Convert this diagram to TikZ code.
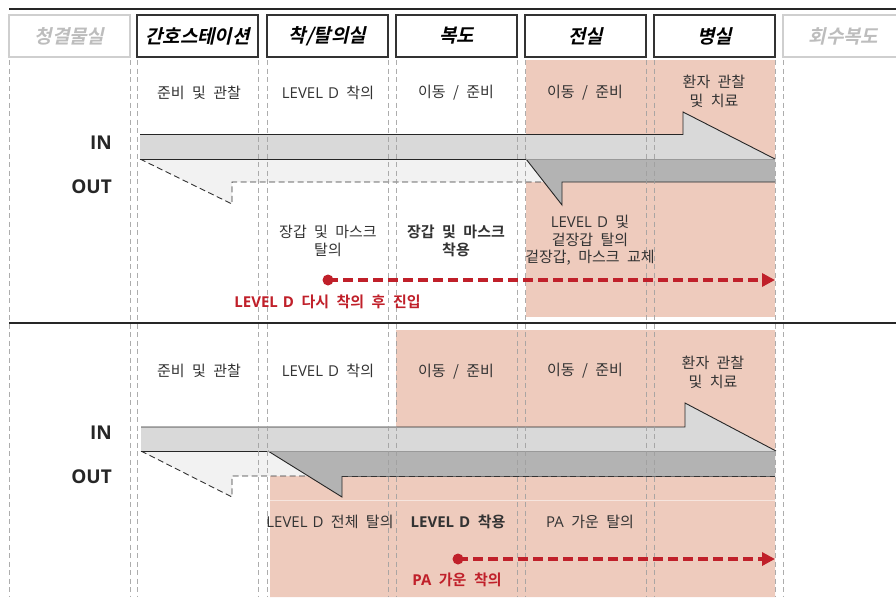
\documentclass[tikz,border=0pt]{standalone}
\usepackage{fontspec}
\setmainfont{Noto Sans CJK KR}[BoldFont={Noto Sans CJK KR Bold}, WordSpace=2.2]
\newfontfamily\hdrfont{Noto Sans CJK KR Bold}[FakeSlant=0.22, WordSpace=2.2]
\newfontfamily\lat{Open Sans}[WordSpace=1.3]
\usetikzlibrary{arrows.meta}
\definecolor{pinkbg}{HTML}{EECBBD}
\definecolor{inband}{HTML}{D9D9D9}
\definecolor{outdark}{HTML}{B3B3B3}
\definecolor{outlight}{HTML}{F2F2F2}
\definecolor{redc}{HTML}{C0202A}
\definecolor{txt}{HTML}{333333}
\definecolor{boxline}{HTML}{333333}
\definecolor{greyhdr}{HTML}{CFCFCF}
\definecolor{greytxt}{HTML}{BDBDBD}
\begin{document}
\begin{tikzpicture}[x=1pt,y=-1pt,
  hdr/.style={draw=boxline, line width=1.4pt, minimum width=121pt, minimum height=42pt,
    font=\hdrfont\fontsize{19}{22}\selectfont, text=black, inner sep=0pt},
  hdrgray/.style={hdr, draw=greyhdr, text=greytxt},
  lbl/.style={font=\fontsize{15}{18.5}\selectfont, text=txt, align=center, inner sep=0pt},
  lblb/.style={lbl, font=\bfseries\fontsize{15}{18.5}\selectfont},
  redlbl/.style={font=\bfseries\fontsize{15}{16}\selectfont, text=redc, inner sep=0pt},
  io/.style={font=\lat\bfseries\fontsize{19}{22}\selectfont, text=black!85, anchor=east, inner sep=0pt},
  vguide/.style={draw=gray!75, line width=0.7pt, dash pattern=on 5pt off 3.5pt, opacity=0.85},
  redflow/.style={draw=redc, line width=3.6pt, dash pattern=on 10pt off 5pt,
    -{Triangle[length=13pt,width=13pt]}},
  reddot/.style={circle, fill=redc, minimum size=11pt, inner sep=0pt},
  edgeline/.style={draw=black!85, line width=0.9pt, line join=miter},
  dashedge/.style={draw=black!80, line width=0.9pt, dash pattern=on 6pt off 3.5pt},
  sepline/.style={draw=black!85, line width=2.2pt}
]
\useasboundingbox (0,0) rectangle (896,597);
\clip (0,0) rectangle (896,597);

% ---------- pink backgrounds ----------
\fill[pinkbg] (526,60) rectangle (775,317);
\fill[pinkbg] (396,330) -- (775,330) -- (775,597) -- (270,597) -- (270,476) -- (396,476) -- cycle;
\draw[white, opacity=0.5, line width=0.6pt] (270,500) -- (775,500);

% ---------- top panel flows ----------
\fill[outlight] (140,159) -- (775,159) -- (775,182) -- (232,182) -- (232,204) -- cycle;
\draw[dashedge] (140,159) -- (232,204) -- (232,182) -- (562,182);
\fill[inband] (140,134.5) -- (683,134.5) -- (683,112) -- (775,159) -- (140,159) -- cycle;
\draw[edgeline] (140,134.5) -- (683,134.5) -- (683,112) -- (775,159);
\draw[edgeline] (140,159) -- (526,159);
\fill[outdark] (526,159) -- (775,159) -- (775,182) -- (562,182) -- (562,205) -- cycle;
\draw[edgeline] (775,182) -- (562,182) -- (562,205) -- (526,159);
\draw[black!40, line width=0.5pt] (526,159) -- (775,159);

% ---------- bottom panel flows ----------
\fill[outlight] (141,451) -- (775,451) -- (775,476) -- (232,476) -- (232,497) -- cycle;
\draw[dashedge] (141,451) -- (232,497) -- (232,476) -- (775,476);
\fill[inband] (141,427) -- (685,427) -- (685,403) -- (776,451) -- (141,451) -- cycle;
\draw[edgeline] (141,427) -- (685,427) -- (685,403) -- (776,451);
\draw[edgeline] (141,451) -- (268,451);
\fill[outdark] (268,451) -- (775,451) -- (775,476) -- (342,476) -- (342,497) -- cycle;
\draw[edgeline] (342,476) -- (342,497) -- (268,451);
\draw[black!60, line width=0.7pt] (342,476) -- (775,476);
\draw[dashedge] (342,476) -- (775,476);
\draw[black!40, line width=0.5pt] (268,451) -- (776,451);

% ---------- vertical guides ----------
\foreach \gx in {9,130,137,258,267,388,396,517,525,646,654,775,783}
  \draw[vguide] (\gx,60) -- (\gx,597);

% ---------- rules ----------
\draw[sepline, line width=2.6pt] (9,9) -- (896,9);
\draw[sepline] (9,323) -- (896,323);

% ---------- headers ----------
\node[hdrgray] (h1) at (69.5,36) {청결물실};
\node[hdr] (h2) at (197.5,36) {간호스테이션};
\node[hdr] (h3) at (327.5,36) {착/탈의실};
\node[hdr] (h4) at (456.5,36) {복도};
\node[hdr] (h5) at (585.5,36) {전실};
\node[hdr] (h6) at (714.5,36) {병실};
\node[hdrgray] (h7) at (843.5,36) {회수복도};

% ---------- IN / OUT ----------
\node[io] (in1) at (112,143) {IN};
\node[io] (out1) at (112,187) {OUT};
\node[io] (in2) at (112,433) {IN};
\node[io] (out2) at (112,477) {OUT};

% ---------- top panel labels ----------
\node[lbl] (t1) at (199,93) {준비 및 관찰};
\node[lbl] (t2) at (328,93) {{\lat LEVEL D} 착의};
\node[lbl] (t3) at (456,93) {이동 / 준비};
\node[lbl] (t4) at (585,93) {이동 / 준비};
\node[lbl] (t5) at (714,91.5) {환자 관찰\\ 및 치료};
\node[lbl] (t6) at (328,241) {장갑 및 마스크\\탈의};
\node[lblb] (t7) at (456,241) {장갑 및 마스크\\착용};
\node[lbl, font=\fontsize{15}{17.5}\selectfont] (t8) at (590,240.5) {{\lat LEVEL D} 및\\겉장갑 탈의\\겉장갑, 마스크 교체};

\node[reddot] (d1) at (328,280) {};
\coordinate (e1) at (775,280);
\draw[redflow] (d1.center) -- (e1);
\node[redlbl] (r1) at (327.5,302) {{\lat LEVEL D} 다시 착의 후 진입};

% ---------- bottom panel labels ----------
\node[lbl] (b1) at (199,371) {준비 및 관찰};
\node[lbl] (b2) at (328,371) {{\lat LEVEL D} 착의};
\node[lbl] (b3) at (456,372) {이동 / 준비};
\node[lbl] (b4) at (585,371) {이동 / 준비};
\node[lbl] (b5) at (713,372.5) {환자 관찰\\ 및 치료};
\node[lbl] (b6) at (330,522) {{\lat LEVEL D} 전체 탈의};
\node[lblb] (b7) at (458,522) {{\lat LEVEL D} 착용};
\node[lbl] (b8) at (590,522) {{\lat PA} 가운 탈의};

\node[reddot] (d2) at (458,559) {};
\coordinate (e2) at (775,559);
\draw[redflow] (d2.center) -- (e2);
\node[redlbl] (r2) at (457,580) {{\lat PA} 가운 착의};
\end{tikzpicture}
\end{document}
